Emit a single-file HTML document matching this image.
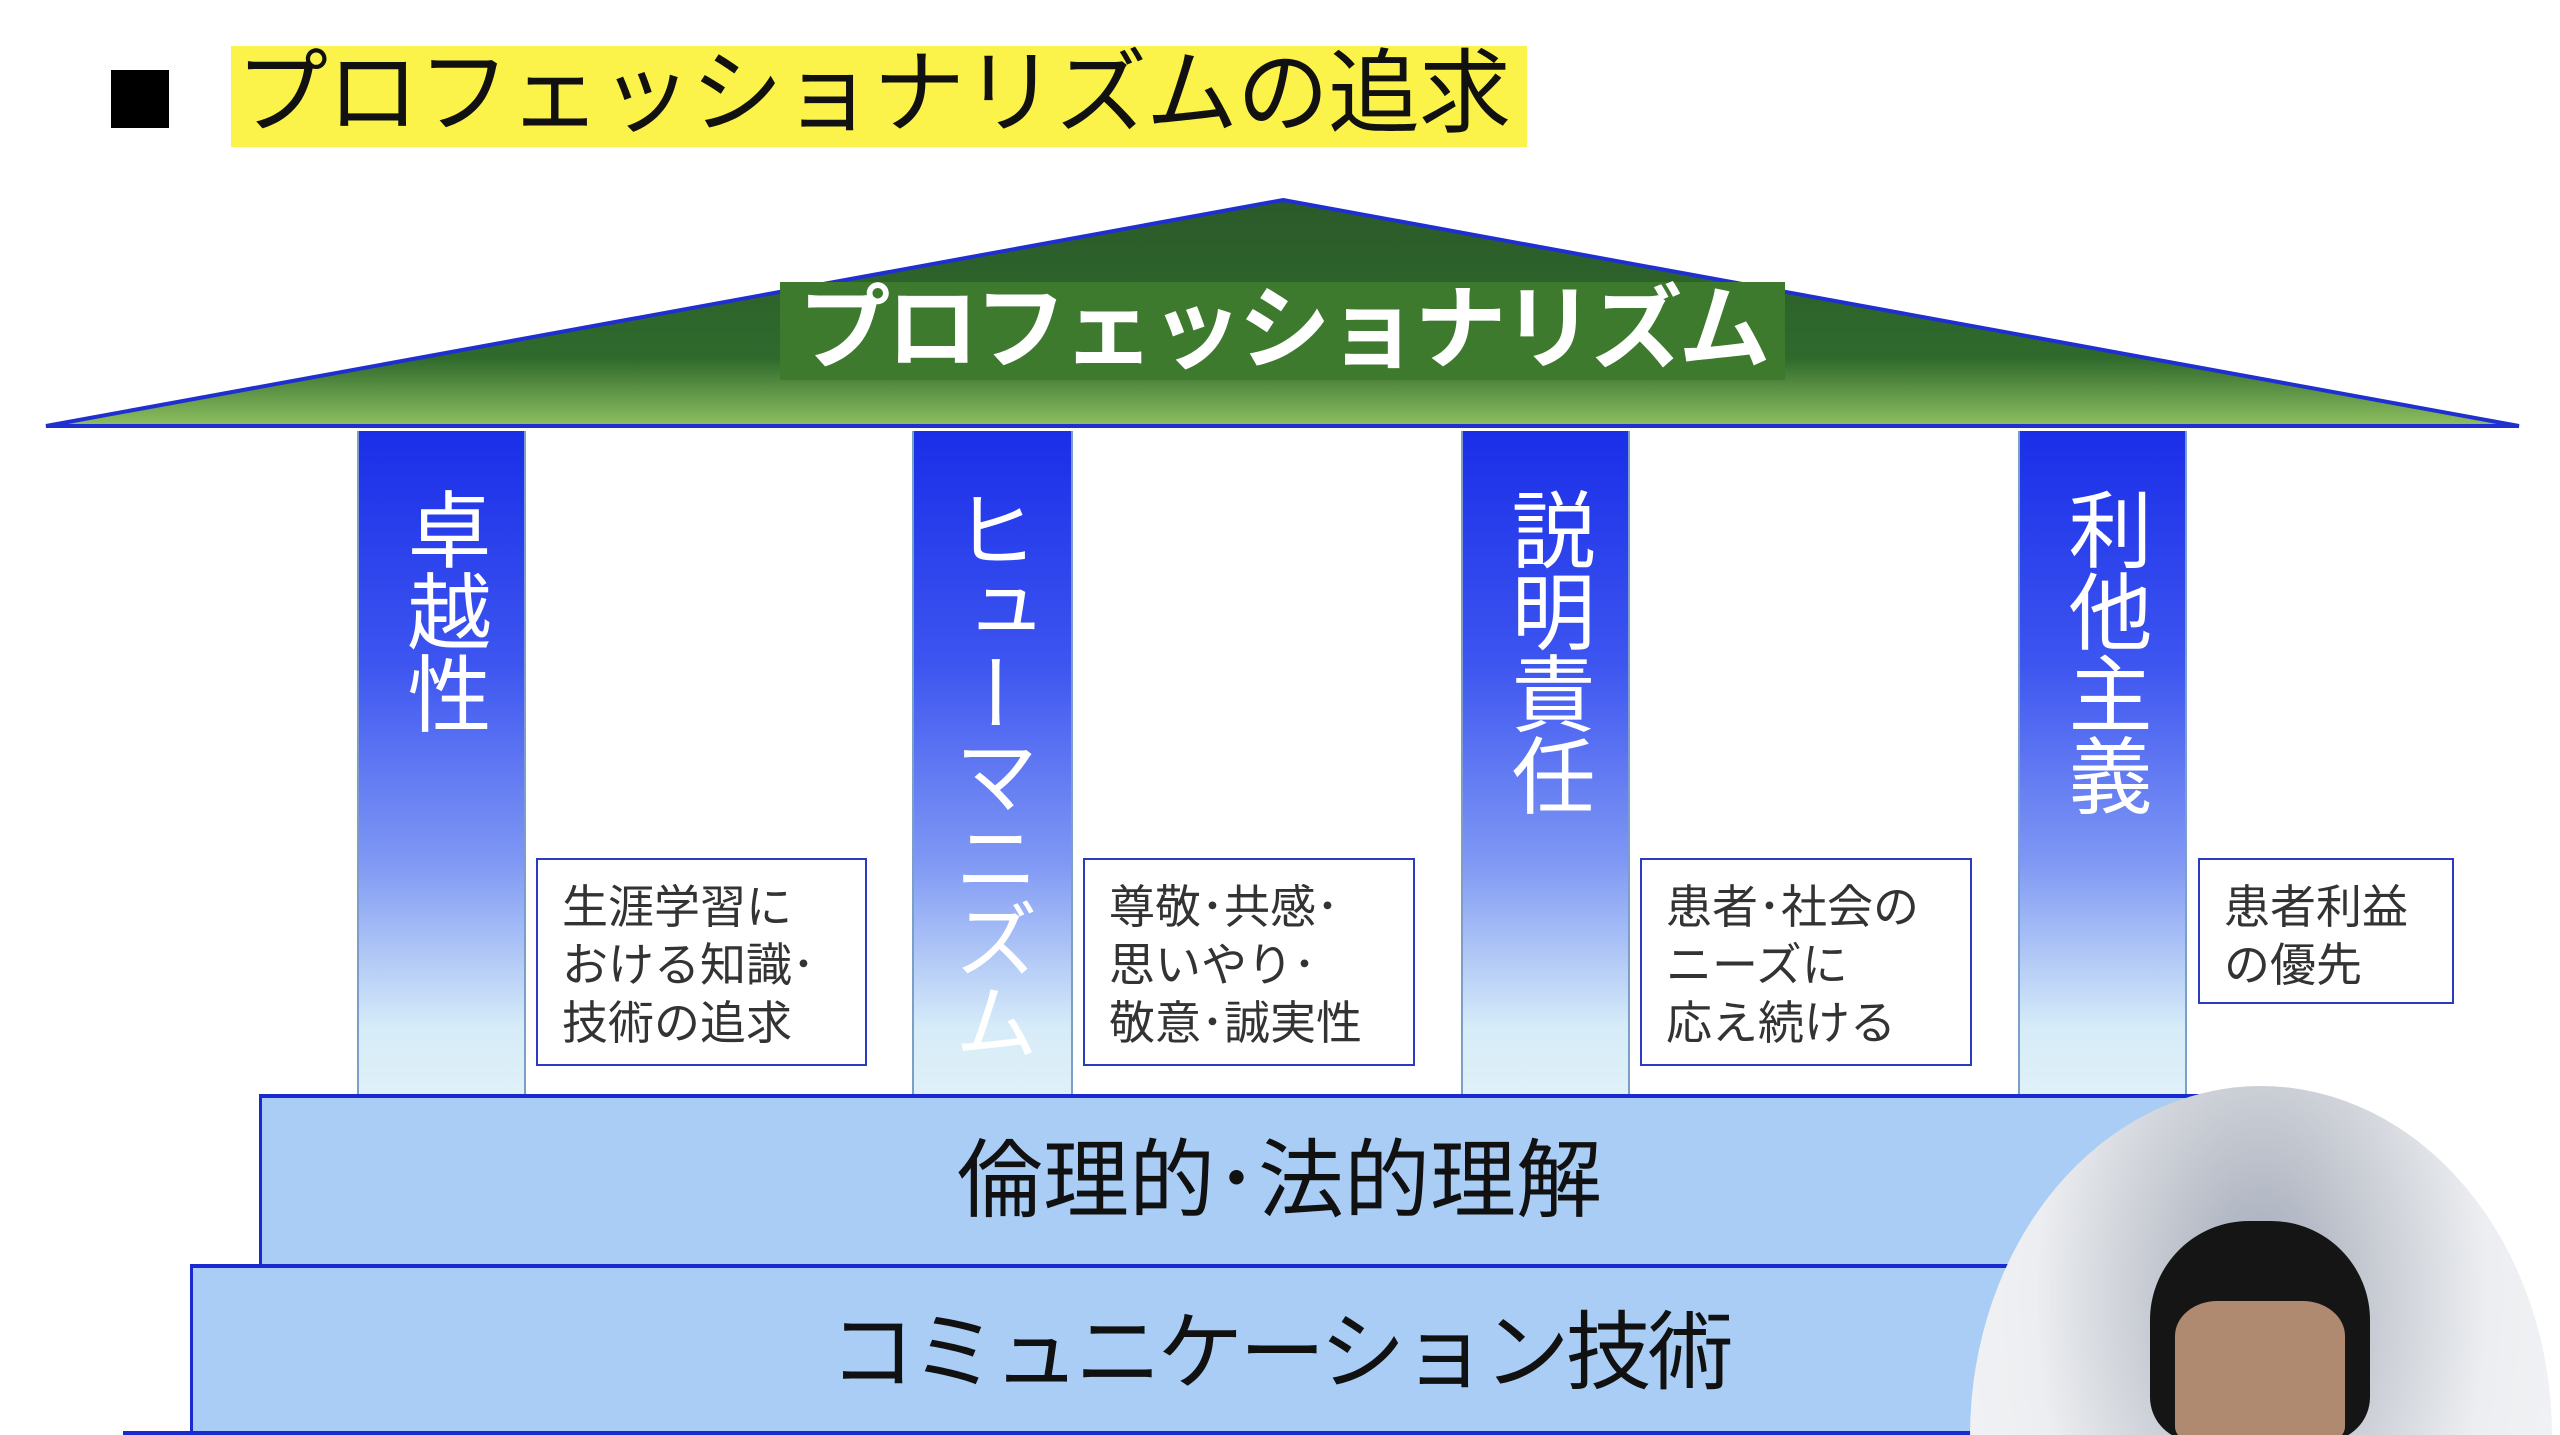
<!DOCTYPE html>
<html><head><meta charset="utf-8"><style>
html,body{margin:0;padding:0;background:#fff;width:2560px;height:1435px;overflow:hidden;position:relative;font-family:"Liberation Sans","Noto Sans CJK JP",sans-serif}
.a{position:absolute}
.pil{position:absolute;top:431px;height:663px;background:linear-gradient(#1a2ee8 0%,#3d55f0 35%,#7f98f4 65%,#d6ecf8 90%,#dff0f8 100%);border-left:2px solid #7aa0c8;border-right:2px solid #7aa0c8;box-sizing:border-box}
.pt{position:absolute;left:-6px;right:0;top:56px;writing-mode:vertical-rl;margin:auto;color:#fff;font-size:84px;line-height:163px;text-align:start;letter-spacing:-2px}
.box{position:absolute;border:2px solid #2a3bc0;background:#fff;box-sizing:border-box;color:#333;font-size:46px;line-height:58px;padding:18px 0 0 24px;white-space:nowrap}
.step{position:absolute;background:#a9cdf5;border-top:4px solid #1a2ad0;border-left:3px solid #1a2ad0;box-sizing:border-box;color:#111;font-size:86px;text-align:center;white-space:nowrap}
</style></head><body>
<div class="a" style="left:111px;top:70px;width:58px;height:58px;background:#000"></div>
<div class="a" style="left:231px;top:46px;width:1296px;height:101px;background:#fbf24a"></div>
<div class="a" style="left:236px;top:42px;font-size:92px;line-height:105px;color:#111;white-space:nowrap;letter-spacing:-1px">プロフェッショナリズムの追求</div>
<svg class="a" style="left:0;top:0" width="2560" height="440">
<defs><linearGradient id="g" x1="0" y1="0" x2="0" y2="1"><stop offset="0" stop-color="#2b5a2a"/><stop offset="0.7" stop-color="#2f6a2c"/><stop offset="1" stop-color="#8fbf60"/></linearGradient></defs>
<polygon points="1283,200 2519,426 46,426" fill="url(#g)" stroke="#2030d0" stroke-width="4"/>
</svg>
<div class="a" style="left:780px;top:282px;width:1005px;height:98px;background:#3d7a2e"></div>
<div class="a" style="left:780px;top:276px;width:1005px;text-align:center;font-size:92px;line-height:108px;color:#fff;font-weight:bold;letter-spacing:-4px;white-space:nowrap">プロフェッショナリズム</div>
<div class="pil" style="left:357px;width:169px"><div class="pt">卓越性</div></div>
<div class="pil" style="left:912px;width:161px"><div class="pt">ヒューマニズム</div></div>
<div class="pil" style="left:1461px;width:169px"><div class="pt">説明責任</div></div>
<div class="pil" style="left:2018px;width:169px"><div class="pt">利他主義</div></div>
<div class="box" style="left:536px;top:858px;width:331px;height:208px">生涯学習に<br>おける知識･<br>技術の追求</div>
<div class="box" style="left:1083px;top:858px;width:332px;height:208px">尊敬･共感･<br>思いやり･<br>敬意･誠実性</div>
<div class="box" style="left:1640px;top:858px;width:332px;height:208px">患者･社会の<br>ニーズに<br>応え続ける</div>
<div class="box" style="left:2198px;top:858px;width:256px;height:146px">患者利益<br>の優先</div>
<div class="step" style="left:259px;top:1094px;width:1940px;height:172px;line-height:166px"><span style="position:relative;left:49px">倫理的･法的理解</span></div>
<div class="step" style="left:190px;top:1264px;width:2100px;height:175px;line-height:170px"><span style="position:relative;left:38px;letter-spacing:-4px">コミュニケーション技術</span></div>
<div class="a" style="left:123px;top:1431px;width:2200px;height:4px;background:#1a2ad0"></div>
<div class="a" style="left:1970px;top:1086px;width:590px;height:349px;overflow:hidden">
<div class="a" style="left:0;top:0;width:582px;height:700px;border-radius:50%;background:radial-gradient(ellipse at 50% 30%,#a0a8b8 0%,#c4c8d0 25%,#eceef1 55%,#f6f6f8 100%)"></div>
<div class="a" style="left:180px;top:135px;width:220px;height:220px;background:#151515;border-radius:45% 45% 20% 20%"></div>
<div class="a" style="left:205px;top:215px;width:170px;height:140px;border-radius:25% 25% 10% 10%;background:#b08a70"></div>
</div>
</body></html>
